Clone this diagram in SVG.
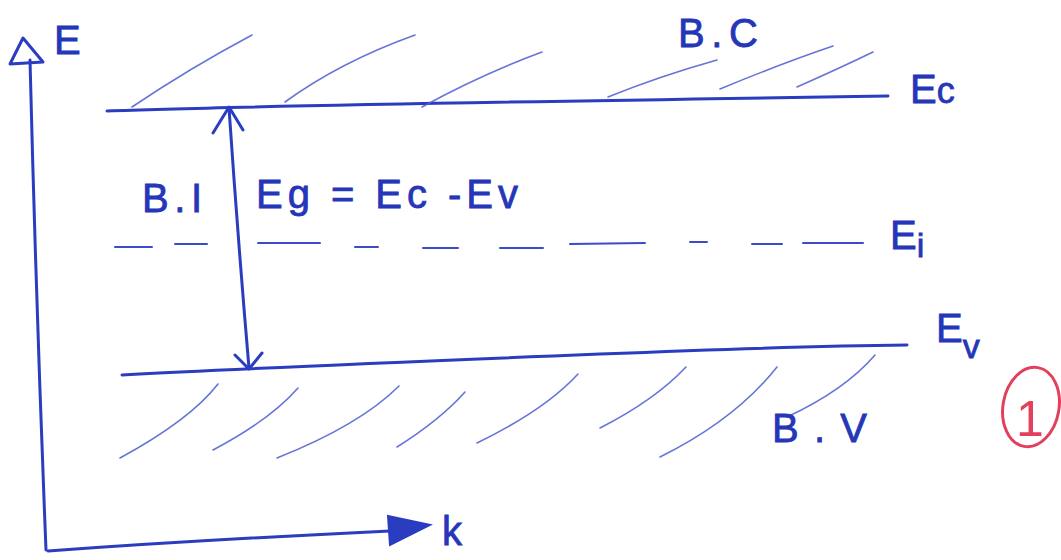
<svg xmlns="http://www.w3.org/2000/svg" width="1061" height="560" viewBox="0 0 1061 560">
<style>
.ink{fill:none;stroke:#2a3cc0;stroke-width:3;stroke-linecap:round;stroke-linejoin:round}
.thin{fill:none;stroke:#4a5cd0;stroke-width:1.6;stroke-linecap:round;opacity:0.85}
.dash{fill:none;stroke:#3a4cc8;stroke-width:2;stroke-linecap:round}
.lbl{font-family:"Liberation Sans","DejaVu Sans",sans-serif;fill:#2536b8;stroke:#2536b8;stroke-width:0.8;font-size:40px}
.red{fill:none;stroke:#e2405c;stroke-width:3;stroke-linecap:round}
</style>
<rect width="1061" height="560" fill="#ffffff"/>
<g id="axes">
  <path class="ink" d="M30,60 Q36,300 46,550"/>
  <path class="ink" d="M23,38 L10,64 L43,62 Z" stroke-width="4"/>
  <path class="ink" d="M48,551 Q200,540 390,531"/>
  <path d="M388,516 L430,525 L390,545 Z" fill="#2a3cc0" stroke="#2a3cc0" stroke-width="2"/>
  <text class="lbl" x="54" y="54" font-size="36">E</text>
  <text class="lbl" x="442" y="545" font-size="52">k</text>
</g>
<g id="conduction-band">
  <path class="ink" d="M107,111 Q230,106 888,96"/>
  <path class="thin" d="M132,107 Q190,68 252,35"/>
  <path class="thin" d="M285,102 Q340,62 415,35"/>
  <path class="thin" d="M422,107 Q480,75 542,52"/>
  <path class="thin" d="M608,97 Q660,76 717,60"/>
  <path class="thin" d="M720,89 Q780,64 833,46"/>
  <path class="thin" d="M797,87 Q840,68 873,52"/>
  <text class="lbl" x="678" y="47" textLength="80">B.C</text>
  <text class="lbl" x="910" y="103" font-size="40">E<tspan font-size="36">c</tspan></text>
</g>
<g id="intrinsic-level">
  <path class="dash" d="M115,247 L152,247 M175,244 L207,244 M258,243 L320,243 M355,247 L378,247 M423,248 L458,248 M500,248 L543,248 M570,244 L645,243 M690,242 L707,242 M752,244 L782,244 M803,243 L863,243"/>
  <text class="lbl" x="890" y="249">E<tspan font-size="34" dy="8">i</tspan></text>
</g>
<g id="valence-band">
  <path class="ink" d="M122,375 Q250,368 600,354 Q800,346 907,345"/>
  <path class="thin" d="M120,458 Q190,420 218,384"/>
  <path class="thin" d="M213,450 Q270,420 298,388"/>
  <path class="thin" d="M277,458 Q360,425 399,386"/>
  <path class="thin" d="M397,447 Q440,420 465,392"/>
  <path class="thin" d="M477,443 Q545,410 578,374"/>
  <path class="thin" d="M600,428 Q655,400 686,367"/>
  <path class="thin" d="M660,457 Q735,420 777,367"/>
  <path class="thin" d="M787,417 Q845,390 875,355"/>
  <text class="lbl" x="772" y="442" textLength="95">B.V</text>
  <text class="lbl" x="936" y="342">E<tspan font-size="34" dy="16">v</tspan></text>
</g>
<g id="gap">
  <path class="ink" d="M229,108 Q238,240 249,368" stroke-width="2"/>
  <path class="ink" d="M213,133 L229,107 L243,130" stroke-width="2.5"/>
  <path class="ink" d="M235,355 L249,369 L262,353" stroke-width="2.5"/>
  <text class="lbl" x="142" y="212" textLength="60">B.I</text>
  <text class="lbl" x="256" y="208" textLength="262">Eg = Ec -Ev</text>
</g>
<g id="number">
  <ellipse class="red" cx="1031" cy="407" rx="28" ry="40" transform="rotate(10 1031 407)"/>
  <text x="1016" y="436" font-family="Liberation Sans, sans-serif" font-size="50" fill="#e2405c">1</text>
</g>
</svg>
